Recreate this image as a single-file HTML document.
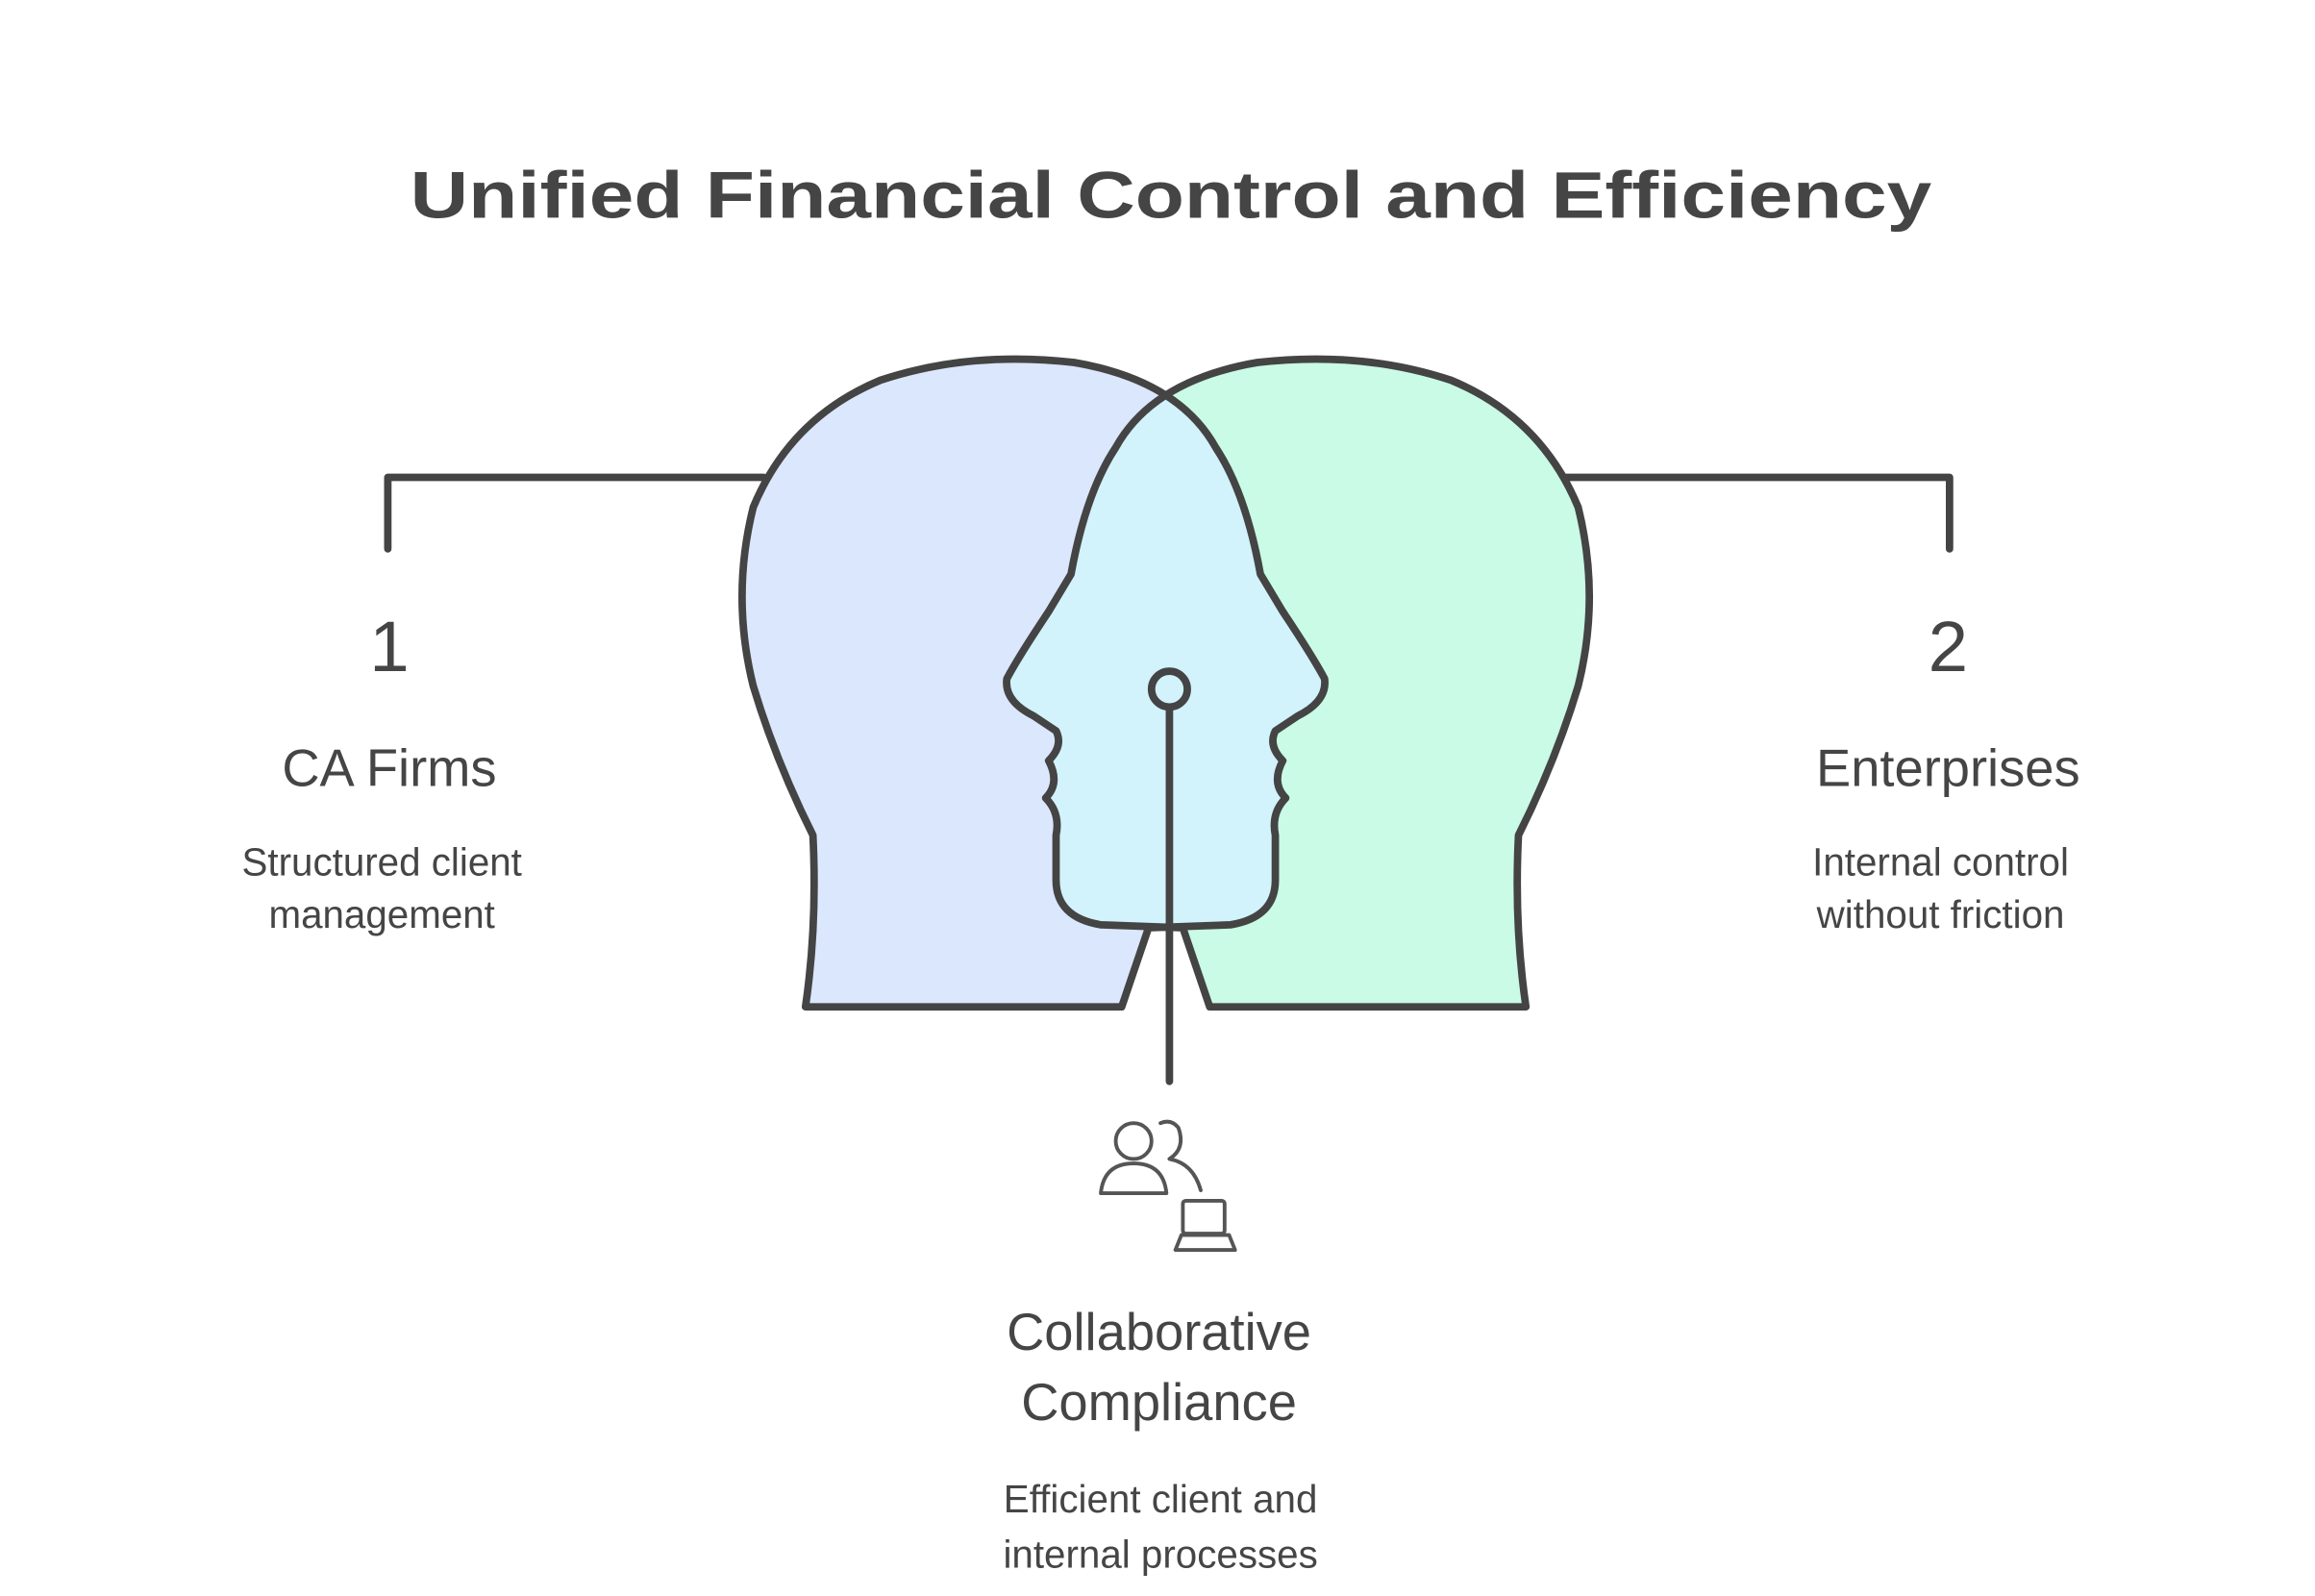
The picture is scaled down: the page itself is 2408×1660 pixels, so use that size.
<!DOCTYPE html>
<html><head><meta charset="utf-8"><style>
html,body{margin:0;padding:0;background:#fff;}
svg{display:block;}
text{font-family:"Liberation Sans",sans-serif;fill:#454545;}
</style></head><body>
<svg width="2408" height="1660" viewBox="0 0 1552 1070" preserveAspectRatio="none" xmlns="http://www.w3.org/2000/svg">
<defs>
<path id="lh" d="M540,675 L752,675 L770,622 L825,620 Q855,615 855,590 L855,560 Q852,545 862,535 Q852,525 860,510 Q850,500 855,490 L870,480 Q890,470 888,455 Q880,440 860,410 L845,385 Q835,330 815,300 Q790,255 720,243 Q650,235 590,255 Q530,280 505,340 Q490,400 505,460 Q520,510 545,560 Q548,620 540,675 Z"/>
<path id="rh" d="M1023,675 L811,675 L793,622 L738,620 Q708,615 708,590 L708,560 Q711,545 701,535 Q711,525 703,510 Q713,500 708,490 L693,480 Q673,470 675,455 Q683,440 703,410 L718,385 Q728,330 748,300 Q773,255 843,243 Q913,235 973,255 Q1033,280 1058,340 Q1073,400 1058,460 Q1043,510 1018,560 Q1015,620 1023,675 Z"/>
<clipPath id="clipL"><use href="#lh"/></clipPath>
</defs>
<rect width="1552" height="1070" fill="#fff"/>
<text x="785" y="146" text-anchor="middle" font-size="44" font-weight="bold" textLength="1020" lengthAdjust="spacingAndGlyphs">Unified Financial Control and Efficiency</text>
<g fill="none" stroke="#444" stroke-width="5" stroke-linecap="round" stroke-linejoin="round">
<path d="M260,368 L260,320 L512,320"/>
<path d="M1050,320 L1307,320 L1307,368"/>
</g>
<use href="#lh" fill="#dbe7fd"/>
<use href="#rh" fill="#c9fbe6"/>
<use href="#rh" fill="#d2f2fc" clip-path="url(#clipL)"/>
<g fill="none" stroke="#444" stroke-width="5" stroke-linejoin="round">
<use href="#lh"/>
<use href="#rh"/>
<circle cx="784" cy="462" r="12"/>
<line x1="784" y1="474" x2="784" y2="725" stroke-linecap="round"/>
</g>
<g fill="none" stroke="#555" stroke-width="2.5" stroke-linejoin="round" stroke-linecap="round">
<circle cx="760" cy="765" r="12"/>
<path d="M738,800 Q740,780 760,780 Q780,780 782,800 Z"/>
<path d="M778,753 Q785,750 790,756 Q795,770 784,777 Q800,780 805,798"/>
<rect x="793" y="805" width="28" height="22" rx="2"/>
<path d="M788,838 L828,838 L824,828 L792,828 Z"/>
</g>
<text x="261" y="450" text-anchor="middle" font-size="48">1</text>
<text x="1306" y="450" text-anchor="middle" font-size="48">2</text>
<text x="261" y="527" text-anchor="middle" font-size="35">CA Firms</text>
<text x="256" y="587" text-anchor="middle" font-size="26">Structured client</text>
<text x="256" y="622" text-anchor="middle" font-size="26">management</text>
<text x="1306" y="527" text-anchor="middle" font-size="35">Enterprises</text>
<text x="1301" y="587" text-anchor="middle" font-size="26">Internal control</text>
<text x="1301" y="622" text-anchor="middle" font-size="26">without friction</text>
<text x="777" y="905" text-anchor="middle" font-size="35">Collaborative</text>
<text x="777" y="952" text-anchor="middle" font-size="35">Compliance</text>
<text x="778" y="1014" text-anchor="middle" font-size="26">Efficient client and</text>
<text x="778" y="1051" text-anchor="middle" font-size="26">internal processes</text>
</svg>
</body></html>
